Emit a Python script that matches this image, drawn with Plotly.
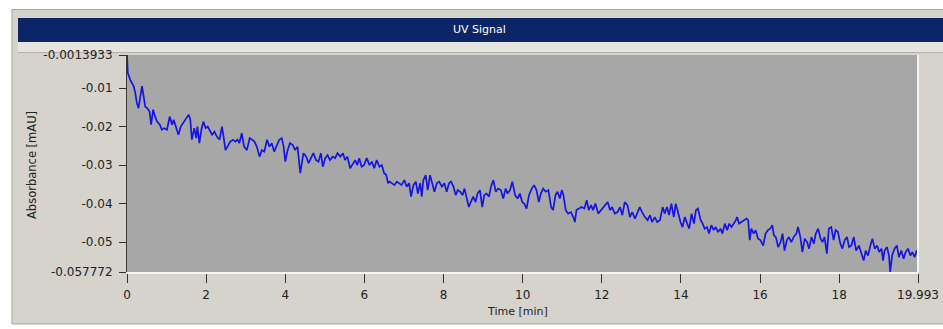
import plotly.graph_objects as go

# ---- data ----
time_min = [
    0.00, 0.02, 0.08, 0.17, 0.21, 0.25, 0.29, 0.34, 0.38, 0.42, 0.46, 0.51, 0.57, 0.61, 0.66, 0.71, 0.76, 0.83, 0.88, 0.94,
    1.01, 1.08, 1.14, 1.18, 1.25, 1.30, 1.36, 1.43, 1.50, 1.56, 1.60, 1.64, 1.70, 1.75, 1.78, 1.83, 1.88, 1.93, 1.99,
    2.04, 2.09, 2.15, 2.21, 2.27, 2.34, 2.40, 2.44, 2.49, 2.54, 2.61, 2.68, 2.74, 2.79, 2.84, 2.90, 2.96,
    3.03, 3.10, 3.16, 3.22, 3.28, 3.35, 3.41, 3.47, 3.54, 3.60, 3.66, 3.72, 3.79, 3.85, 3.91, 3.96,
    4.00, 4.06, 4.12, 4.19, 4.25, 4.31, 4.38, 4.42, 4.46, 4.53, 4.59, 4.65, 4.71, 4.78, 4.84, 4.90, 4.95,
    5.01, 5.07, 5.13, 5.20, 5.26, 5.32, 5.39, 5.46, 5.51, 5.57, 5.64, 5.71, 5.77, 5.82, 5.87, 5.93, 5.99,
    6.06, 6.13, 6.19, 6.25, 6.31, 6.38, 6.44, 6.50, 6.55, 6.60, 6.64, 6.69, 6.76, 6.82, 6.88, 6.94,
    7.01, 7.07, 7.13, 7.18, 7.24, 7.30, 7.35, 7.41, 7.45, 7.49, 7.55, 7.60, 7.66, 7.72, 7.77, 7.83, 7.89, 7.96,
    8.02, 8.08, 8.14, 8.19, 8.25, 8.31, 8.36, 8.42, 8.48, 8.53, 8.59, 8.64, 8.69, 8.75, 8.81, 8.86, 8.92, 8.98,
    9.03, 9.09, 9.15, 9.20, 9.26, 9.32, 9.38, 9.45, 9.51, 9.57, 9.62, 9.68, 9.74, 9.81, 9.87, 9.93, 9.99,
    10.04, 10.10, 10.16, 10.23, 10.29, 10.35, 10.41, 10.46, 10.52, 10.58, 10.65, 10.72, 10.77, 10.83, 10.88, 10.94, 10.99,
    11.03, 11.09, 11.15, 11.22, 11.28, 11.32, 11.36, 11.42, 11.49, 11.56, 11.62, 11.67, 11.73, 11.78, 11.84, 11.91, 11.98,
    12.04, 12.10, 12.15, 12.21, 12.26, 12.33, 12.40, 12.46, 12.52, 12.58, 12.65, 12.71, 12.77, 12.84, 12.90, 12.96,
    13.02, 13.09, 13.16, 13.22, 13.27, 13.34, 13.40, 13.47, 13.54, 13.59, 13.65, 13.70, 13.76, 13.82, 13.87, 13.93, 13.99,
    14.04, 14.10, 14.16, 14.21, 14.27, 14.33, 14.38, 14.43, 14.50, 14.55, 14.60, 14.66, 14.71, 14.77, 14.83, 14.88, 14.94,
    15.00, 15.05, 15.11, 15.17, 15.22, 15.28, 15.34, 15.39, 15.42, 15.47, 15.53, 15.59, 15.66, 15.70, 15.74, 15.78, 15.84, 15.89, 15.95,
    16.01, 16.08, 16.14, 16.20, 16.26, 16.31, 16.35, 16.40, 16.46, 16.52, 16.57, 16.62, 16.68, 16.73, 16.79, 16.85, 16.92, 16.96,
    17.02, 17.07, 17.13, 17.19, 17.24, 17.30, 17.36, 17.41, 17.47, 17.53, 17.58, 17.63, 17.69, 17.74, 17.80, 17.86, 17.91, 17.97,
    18.03, 18.08, 18.14, 18.20, 18.25, 18.31, 18.37, 18.43, 18.50, 18.56, 18.62, 18.67, 18.73, 18.79, 18.84, 18.90, 18.96,
    19.01, 19.07, 19.11, 19.15, 19.21, 19.26, 19.29, 19.34, 19.40, 19.46, 19.51, 19.57, 19.63, 19.68, 19.74, 19.80, 19.85, 19.91, 19.96, 19.993,
]

absorbance = [
    -0.0013933, -0.00604, -0.00779, -0.00953, -0.0113, -0.0139, -0.0152, -0.0121, -0.0095, -0.0121, -0.0148, -0.0152, -0.0161, -0.0195, -0.0156, -0.0174, -0.0187, -0.0195, -0.0208, -0.0204,
    -0.0208, -0.0174, -0.0195, -0.0182, -0.0208, -0.0221, -0.0200, -0.0187, -0.0178, -0.0169, -0.0182, -0.0234, -0.0204, -0.0230, -0.0200, -0.0243, -0.0208, -0.0187, -0.0204,
    -0.0200, -0.0208, -0.0221, -0.0213, -0.0226, -0.0234, -0.0200, -0.0226, -0.0261, -0.0252, -0.0239, -0.0234, -0.0239, -0.0234, -0.0243, -0.0217, -0.0252,
    -0.0261, -0.0230, -0.0234, -0.0239, -0.0252, -0.0278, -0.0261, -0.0265, -0.0234, -0.0252, -0.0243, -0.0265, -0.0248, -0.0234, -0.0230, -0.0252,
    -0.0291, -0.0261, -0.0243, -0.0248, -0.0261, -0.0252, -0.0321, -0.0287, -0.0269, -0.0278, -0.0295, -0.0282, -0.0269, -0.0287, -0.0291, -0.0269, -0.0304,
    -0.0282, -0.0274, -0.0287, -0.0278, -0.0282, -0.0269, -0.0278, -0.0269, -0.0287, -0.0278, -0.0308, -0.0295, -0.0287, -0.0300, -0.0282, -0.0304, -0.0300,
    -0.0282, -0.0300, -0.0291, -0.0308, -0.0287, -0.0304, -0.0300, -0.0321, -0.0325, -0.0347, -0.0343, -0.0347, -0.0352, -0.0343, -0.0347, -0.0352,
    -0.0339, -0.0356, -0.0347, -0.0382, -0.0352, -0.0343, -0.0374, -0.0347, -0.0382, -0.0339, -0.0326, -0.0365, -0.0326, -0.0347, -0.0369, -0.0347, -0.0343, -0.0356,
    -0.0347, -0.0369, -0.0347, -0.0343, -0.0356, -0.0378, -0.0365, -0.0369, -0.0378, -0.0361, -0.0387, -0.0409, -0.0396, -0.0382, -0.0396, -0.0374, -0.0365, -0.0409,
    -0.0378, -0.0374, -0.0382, -0.0356, -0.0339, -0.0369, -0.0361, -0.0365, -0.0387, -0.0361, -0.0374, -0.0365, -0.0343, -0.0378, -0.0387, -0.0374, -0.0396,
    -0.0400, -0.0413, -0.0378, -0.0361, -0.0352, -0.0365, -0.0396, -0.0374, -0.0361, -0.0369, -0.0365, -0.0409, -0.0417, -0.0378, -0.0369, -0.0387, -0.0365,
    -0.0378, -0.0417, -0.0426, -0.0422, -0.0435, -0.0448, -0.0417, -0.0413, -0.0409, -0.0413, -0.0391, -0.0417, -0.0404, -0.0417, -0.0400, -0.0426, -0.0417,
    -0.0409, -0.0404, -0.0396, -0.0417, -0.0409, -0.0426, -0.0422, -0.0409, -0.0430, -0.0396, -0.0404, -0.0435, -0.0422, -0.0439, -0.0426, -0.0409,
    -0.0422, -0.0435, -0.0443, -0.0430, -0.0448, -0.0435, -0.0448, -0.0443, -0.0409, -0.0426, -0.0409, -0.0430, -0.0400, -0.0435, -0.0400, -0.0426, -0.0448,
    -0.0461, -0.0435, -0.0452, -0.0465, -0.0426, -0.0452, -0.0417, -0.0413, -0.0443, -0.0452, -0.0465, -0.0461, -0.0478, -0.0456, -0.0469, -0.0461, -0.0474,
    -0.0465, -0.0478, -0.0452, -0.0469, -0.0452, -0.0461, -0.0452, -0.0443, -0.0435, -0.0452, -0.0448, -0.0443, -0.0439, -0.0443, -0.0495, -0.0465, -0.0478, -0.0469, -0.0491,
    -0.0495, -0.0509, -0.0478, -0.0469, -0.0465, -0.0456, -0.0482, -0.0487, -0.0513, -0.0500, -0.0478, -0.0522, -0.0495, -0.0487, -0.0500, -0.0487, -0.0478, -0.0461,
    -0.0487, -0.0526, -0.0491, -0.0500, -0.0517, -0.0487, -0.0504, -0.0478, -0.0465, -0.0491, -0.0500, -0.0487, -0.0530, -0.0465, -0.0461, -0.0495, -0.0469, -0.0474,
    -0.0504, -0.0517, -0.0495, -0.0487, -0.0513, -0.0509, -0.0487, -0.0522, -0.0509, -0.0526, -0.0548, -0.0522, -0.0535, -0.0509, -0.0491, -0.0517, -0.0509,
    -0.0526, -0.0517, -0.0548, -0.0522, -0.0513, -0.0535, -0.057772, -0.0535, -0.0517, -0.0509, -0.0539, -0.0522, -0.0543, -0.0526, -0.0517, -0.0535, -0.0526, -0.0539, -0.0522, -0.0526,
]

x_tick_vals = [0, 2, 4, 6, 8, 10, 12, 14, 16, 18, 19.993]
x_tick_text = ["0", "2", "4", "6", "8", "10", "12", "14", "16", "18", "19.993"]
y_tick_vals = [-0.0013933, -0.01, -0.02, -0.03, -0.04, -0.05, -0.057772]
y_tick_text = ["-0.0013933", "-0.01", "-0.02", "-0.03", "-0.04", "-0.05", "-0.057772"]

chart_title = "UV Signal"
x_title = "Time [min]"
y_title = "Absorbance [mAU]"

# ---- figure ----
W, H = 943, 329
ML, MR, MT, MB = 127, 25, 55, 57
PW, PH = W - ML - MR, H - MT - MB


def px(x):
    return (x - ML) / PW


def py(y):
    return (H - MB - y) / PH


FONT = "DejaVu Sans"
TXT = "#222222"

fig = go.Figure()
fig.add_trace(go.Scatter(
    x=time_min, y=absorbance, mode="lines",
    line=dict(color="#1414e6", width=1.7),
    hoverinfo="skip", showlegend=False,
))

shapes = [
    # window panel
    dict(type="rect", xref="paper", yref="paper", layer="below",
         x0=px(12), x1=px(946), y0=py(324), y1=py(9.5),
         fillcolor="#d6d3cc", line=dict(color="#a8a59f", width=1)),
    # light band under title bar
    dict(type="rect", xref="paper", yref="paper", layer="below",
         x0=px(18), x1=px(946), y0=py(52.5), y1=py(42),
         fillcolor="#e6e4df", line=dict(width=0)),
    dict(type="line", xref="paper", yref="paper", layer="below",
         x0=px(18), x1=px(946), y0=py(52.5), y1=py(52.5),
         line=dict(color="#b5b2ab", width=1)),
    # title bar
    dict(type="rect", xref="paper", yref="paper", layer="below",
         x0=px(18), x1=px(946), y0=py(42), y1=py(18),
         fillcolor="#0b2566", line=dict(width=0)),
    # plot area background
    dict(type="rect", xref="paper", yref="paper", layer="below",
         x0=0, x1=1, y0=0, y1=1,
         fillcolor="#a7a7a7", line=dict(width=0)),
    # right white edge of the plot area
    dict(type="line", xref="paper", yref="paper", layer="above",
         x0=1, x1=1, y0=0, y1=1,
         line=dict(color="#f4f4f4", width=2)),
]

annotations = [
    dict(text=chart_title, xref="paper", yref="paper", x=px(479), y=py(30),
         xanchor="center", yanchor="middle", showarrow=False,
         font=dict(family=FONT, size=11, color="#ffffff")),
    dict(text=x_title, xref="paper", yref="paper", x=px(517), y=py(311),
         xanchor="center", yanchor="middle", showarrow=False,
         font=dict(family=FONT, size=11, color=TXT)),
    dict(text=y_title, xref="paper", yref="paper", x=px(32), y=py(165),
         xanchor="center", yanchor="middle", showarrow=False, textangle=-90,
         font=dict(family=FONT, size=11.5, color=TXT)),
]

fig.update_layout(
    template="none",
    width=W, height=H,
    margin=dict(l=ML, r=MR, t=MT, b=MB, pad=0, autoexpand=False),
    paper_bgcolor="#ffffff",
    plot_bgcolor="#a7a7a7",
    shapes=shapes,
    annotations=annotations,
    showlegend=False,
    xaxis=dict(
        range=[0, 19.993], tickmode="array", tickvals=x_tick_vals, ticktext=x_tick_text,
        automargin=False,
        showgrid=False, zeroline=False, showline=True, linecolor="#f4f4f4", linewidth=2,
        ticks="outside", ticklen=9, tickwidth=1, tickcolor="#303030",
        tickfont=dict(family=FONT, size=12, color=TXT), ticklabelstandoff=2,
        fixedrange=True,
    ),
    yaxis=dict(
        range=[-0.057772, -0.0013933], tickmode="array", tickvals=y_tick_vals, ticktext=y_tick_text,
        automargin=False,
        showgrid=False, zeroline=False, showline=True, linecolor="#3a3a3a", linewidth=1,
        ticks="outside", ticklen=7, tickwidth=1, tickcolor="#303030",
        tickfont=dict(family=FONT, size=12, color=TXT), ticklabelstandoff=4,
        fixedrange=True,
    ),
)

# remove the browser's default 8px page margin so the figure sits at (0, 0)
fig.write_html(
    "out.html",
    config={"displayModeBar": False},
    post_script="document.body.style.margin='0';document.body.style.overflow='hidden';",
)
